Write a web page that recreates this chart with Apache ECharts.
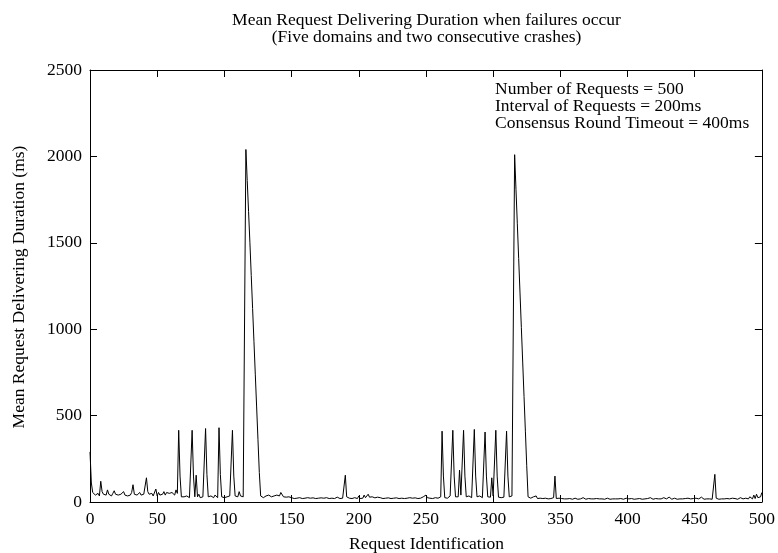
<!DOCTYPE html>
<html><head><meta charset="utf-8">
<script src="https://cdn.jsdelivr.net/npm/echarts@6/dist/echarts.min.js"></script>
<style>html,body{margin:0;padding:0;background:#fff}#c{width:778px;height:553px}</style>
</head><body><div id="c"></div>
<script>
const titleLines = ["Mean Request Delivering Duration when failures occur", "(Five domains and two consecutive crashes)"];
const xAxisTitle = "Request Identification";
const yAxisTitle = "Mean Request Delivering Duration (ms)";
const noteLines = ["Number of Requests = 500", "Interval of Requests = 200ms", "Consensus Round Timeout = 400ms"];
const xTicks = [0, 50, 100, 150, 200, 250, 300, 350, 400, 450, 500];
const yTicks = [0, 500, 1000, 1500, 2000, 2500];
// mean delivering duration (ms) for request ids 0..500
const durations = [
 290,110,55,45,40,35,50,35,120,60,
 45,55,40,70,45,55,35,50,65,45,
 55,40,50,45,35,60,40,50,35,45,
 40,55,100,45,50,40,45,55,40,35,
 45,40,140,60,45,40,50,35,45,75,
 35,55,40,50,45,60,40,55,45,50,
 40,55,45,40,70,50,415,150,30,25,
 30,25,35,30,25,30,415,150,30,155,
 30,45,25,35,30,40,425,160,30,25,
 35,30,25,40,30,25,430,160,30,35,
 25,20,30,25,35,30,415,150,35,45,
 30,60,35,40,30,35,2040,1860,1680,1500,
 1310,1120,930,740,550,360,170,35,30,25,
 28,35,30,40,35,30,28,35,30,40,
 50,35,55,45,30,35,28,25,30,22,
 25,22,20,24,22,20,25,22,20,24,
 22,20,25,28,22,20,24,22,20,25,
 22,20,24,28,22,20,25,22,20,24,
 22,25,20,24,28,22,20,25,22,24,
 155,30,25,22,24,20,22,25,22,20,
 35,20,25,22,40,25,30,45,28,22,
 30,20,24,22,28,20,25,22,20,30,
 22,20,24,22,20,25,22,20,24,22,
 20,25,22,28,20,24,22,20,25,30,
 22,20,24,22,20,28,22,25,30,22,
 40,25,20,22,24,20,22,25,28,22,
 25,30,410,150,25,30,22,28,35,25,
 415,150,30,25,30,185,40,30,415,150,
 30,25,35,30,25,28,420,150,30,25,
 35,28,25,30,405,150,30,25,28,140,
 35,30,415,150,28,35,25,30,28,25,
 410,150,30,25,35,28,2010,1810,1610,1410,
 1210,1010,810,610,410,210,30,25,22,20,
 30,22,35,20,28,22,25,20,18,22,
 20,18,22,20,18,25,150,20,18,22,
 18,20,16,18,22,18,16,20,18,16,
 18,22,18,16,20,18,16,25,18,16,
 18,20,16,18,22,18,16,20,25,18,
 16,18,20,16,18,22,18,16,20,18,
 16,18,28,18,16,20,18,16,20,22,
 30,18,16,20,18,16,22,18,16,20,
 18,16,22,18,16,20,18,25,18,16,
 18,20,16,18,22,18,16,25,20,18,
 16,28,18,16,20,22,18,16,20,18,
 25,18,16,20,18,22,30,18,16,20,
 18,22,16,18,20,28,18,16,22,18,
 20,18,22,16,18,160,22,18,16,20,
 18,25,18,16,20,30,18,16,22,18,
 20,18,16,22,25,30,18,16,22,20,
 18,30,25,18,40,20,45,25,35,30,
 55
];

const FONT = "Liberation Serif";
const FS = 17.5;
const chart = echarts.init(document.getElementById('c'), null, {renderer: 'canvas'});
const xMin = xTicks[0], xMax = xTicks[xTicks.length - 1], xStep = xTicks[1] - xTicks[0];
const yMin = yTicks[0], yMax = yTicks[yTicks.length - 1], yStep = yTicks[1] - yTicks[0];
function axisCommon() {
  return {
    axisLine: {show: true, onZero: false, lineStyle: {color: '#000', width: 1}},
    axisTick: {show: true, inside: true, length: 7, lineStyle: {color: '#000', width: 1}},
    splitLine: {show: false},
    minorTick: {show: false}
  };
}
const labelStyle = {show: true, color: '#000', fontFamily: FONT, fontSize: FS, margin: 8, formatter: v => String(v)};
const option = {
  animation: false,
  backgroundColor: '#fff',
  grid: {left: 90, right: 15, top: 70, bottom: 51, containLabel: false},
  xAxis: [
    Object.assign({type: 'value', position: 'bottom', min: xMin, max: xMax, interval: xStep,
      axisLabel: labelStyle}, axisCommon()),
    Object.assign({type: 'value', position: 'top', min: xMin, max: xMax, interval: xStep,
      axisLabel: {show: false}}, axisCommon())
  ],
  yAxis: [
    Object.assign({type: 'value', position: 'left', min: yMin, max: yMax, interval: yStep,
      axisLabel: labelStyle}, axisCommon()),
    Object.assign({type: 'value', position: 'right', min: yMin, max: yMax, interval: yStep,
      axisLabel: {show: false}}, axisCommon())
  ],
  series: [{
    type: 'line',
    xAxisIndex: 0, yAxisIndex: 0,
    data: durations.map((v, i) => [i, v]),
    showSymbol: false, symbol: 'none',
    lineStyle: {color: '#000', width: 1},
    itemStyle: {color: '#000'}
  }],
  graphic: [
    {type: 'text', x: 426.5, y: 20, style: {text: titleLines[0], fill: '#000', font: FS + 'px "' + FONT + '"', textAlign: 'center', textVerticalAlign: 'middle'}},
    {type: 'text', x: 426.5, y: 37, style: {text: titleLines[1], fill: '#000', font: FS + 'px "' + FONT + '"', textAlign: 'center', textVerticalAlign: 'middle'}},
    {type: 'text', x: 495, y: 89, style: {text: noteLines[0], fill: '#000', font: FS + 'px "' + FONT + '"', textAlign: 'left', textVerticalAlign: 'middle'}},
    {type: 'text', x: 495, y: 106, style: {text: noteLines[1], fill: '#000', font: FS + 'px "' + FONT + '"', textAlign: 'left', textVerticalAlign: 'middle'}},
    {type: 'text', x: 495, y: 123, style: {text: noteLines[2], fill: '#000', font: FS + 'px "' + FONT + '"', textAlign: 'left', textVerticalAlign: 'middle'}},
    {type: 'text', x: 426.5, y: 544, style: {text: xAxisTitle, fill: '#000', font: FS + 'px "' + FONT + '"', textAlign: 'center', textVerticalAlign: 'middle'}},
    {type: 'text', x: 19, y: 287, rotation: Math.PI / 2, style: {text: yAxisTitle, fill: '#000', font: FS + 'px "' + FONT + '"', textAlign: 'center', textVerticalAlign: 'middle'}}
  ]
};
chart.setOption(option);
</script>
</body></html>
